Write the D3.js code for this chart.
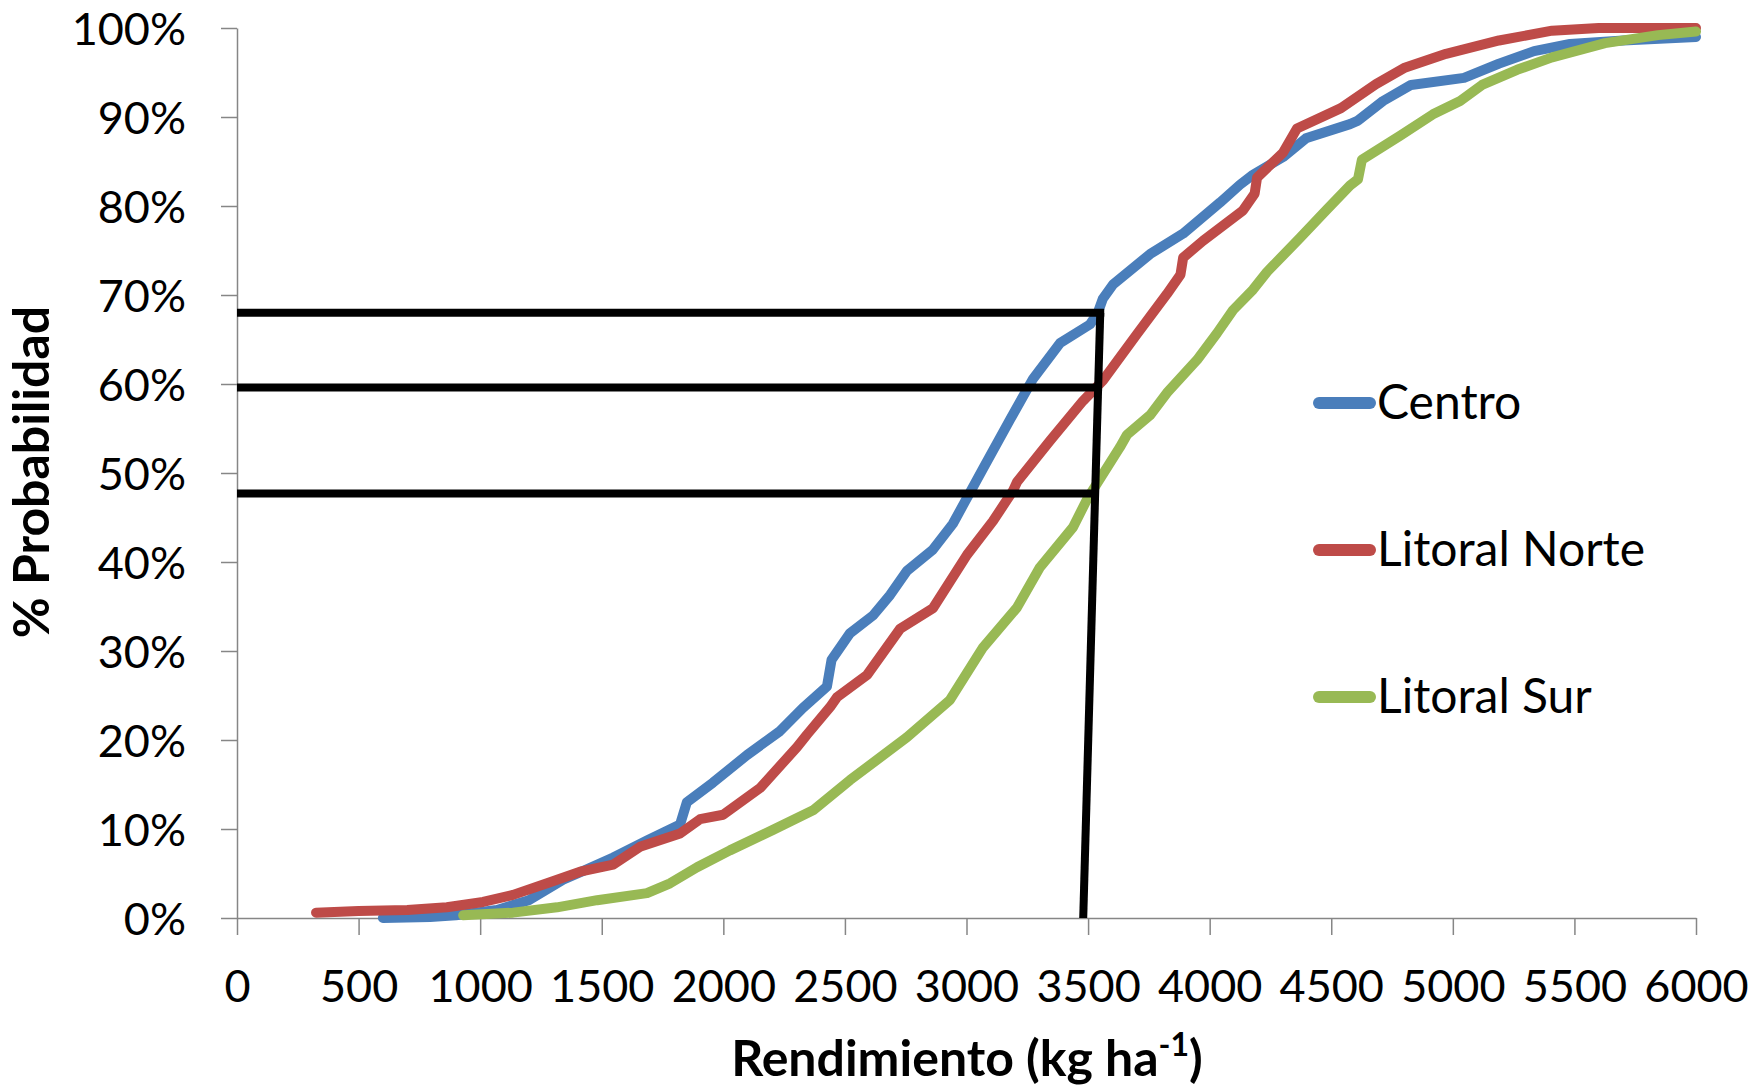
<!DOCTYPE html>
<html>
<head>
  <meta charset="utf-8">
  <title>Rendimiento</title>
  <script src="https://cdn.jsdelivr.net/npm/d3@7"></script>
  <style>
    body { margin: 0; background: #fff; }
    text { font-family: Lato, "Open Sans", sans-serif; fill: #000; }
  </style>
</head>
<body>
  <svg width="1752" height="1089" id="mainsvg"></svg>
  <script>
    // series: [rendimiento kg/ha, probabilidad acumulada %]
    const seriesNames = ['Centro', 'Litoral Norte', 'Litoral Sur'];
    const seriesColors = ['#4A7EBB', '#BE4B48', '#98B954'];

    const centro = [
      [600, 0], [794, 0.1], [900, 0.3], [1069, 0.9], [1200, 2.0], [1341, 4.3], [1450, 5.6],
      [1547, 6.8], [1686, 8.7], [1822, 10.5], [1850, 13.0], [1957, 15.2], [2097, 18.3],
      [2233, 21.0], [2327, 23.6], [2426, 26.0], [2445, 29.0], [2521, 32.0], [2616, 34.0],
      [2686, 36.3], [2755, 39.0], [2862, 41.4], [2944, 44.3], [3014, 47.8], [3068, 50.5],
      [3179, 56.0], [3274, 60.6], [3385, 64.6], [3508, 66.7], [3540, 68.0], [3561, 69.6],
      [3603, 71.2], [3755, 74.6], [3891, 76.9], [4043, 80.4], [4125, 82.4], [4178, 83.5],
      [4302, 85.5], [4396, 87.6], [4577, 89.2], [4610, 89.6], [4713, 91.8], [4828, 93.6],
      [5046, 94.4], [5190, 96.0], [5334, 97.4], [5482, 98.2], [5700, 98.6], [6000, 99.0]
    ];
    const litoralNorte = [
      [325, 0.6], [500, 0.8], [700, 0.9], [863, 1.2], [1012, 1.8], [1135, 2.6], [1275, 3.9],
      [1411, 5.2], [1547, 6.0], [1657, 8.0], [1822, 9.5], [1904, 11.1], [1999, 11.6],
      [2151, 14.6], [2303, 19.2], [2344, 20.6], [2439, 23.7], [2467, 24.8], [2591, 27.3],
      [2727, 32.5], [2862, 34.8], [3002, 40.8], [3109, 44.6], [3191, 48.0], [3208, 49.0],
      [3343, 53.6], [3479, 58.1], [3561, 60.4], [3701, 65.6], [3824, 70.1], [3880, 72.3],
      [3891, 74.2], [3973, 76.1], [4137, 79.5], [4185, 81.4], [4195, 83.2], [4302, 86.0],
      [4359, 88.7], [4540, 91.0], [4684, 93.7], [4799, 95.5], [4972, 97.1], [5190, 98.6],
      [5408, 99.7], [5600, 100], [6000, 100]
    ];
    const litoralSur = [
      [930, 0.3], [1135, 0.6], [1316, 1.2], [1481, 2.0], [1686, 2.8], [1781, 3.9], [1892, 5.7],
      [2027, 7.6], [2204, 9.9], [2369, 12.1], [2521, 15.5], [2755, 20.3], [2932, 24.5],
      [3068, 30.4], [3208, 34.9], [3302, 39.4], [3438, 43.9], [3495, 47.0], [3520, 48.1],
      [3631, 52.9], [3660, 54.3], [3755, 56.5], [3824, 59.0], [3948, 62.7], [4030, 65.7],
      [4096, 68.3], [4178, 70.6], [4236, 72.6], [4371, 76.4], [4482, 79.6], [4577, 82.3],
      [4610, 83.0], [4626, 85.2], [4783, 87.9], [4918, 90.3], [5030, 91.8], [5120, 93.6],
      [5264, 95.3], [5408, 96.7], [5626, 98.3], [5844, 99.2], [6000, 99.6]
    ];
    // black reference lines
    const guideVertical = [[3480, 0], [3550, 68.0]];
    const guideHorizontal = [[68.0, 3550], [59.6, 3541], [47.7, 3528]];

    const xTicks = d3.range(0, 6001, 500);
    const yTicks = d3.range(0, 101, 10);

    const svg = d3.select('svg');
    const margin = {top: 28, right: 56, bottom: 171, left: 237};
    const width = +svg.attr('width');
    const height = +svg.attr('height');
    const innerWidth = width - margin.left - margin.right;
    const innerHeight = height - margin.top - margin.bottom;
    const g = svg.append('g').attr('transform', `translate(${margin.left}, ${margin.top})`);

    const xScale = d3.scaleLinear().domain([0, 6000]).range([0, innerWidth]);
    const yScale = d3.scaleLinear().domain([0, 100]).range([innerHeight, 0]);

    // axes
    const xAxis = d3.axisBottom(xScale).tickValues(xTicks).tickSize(17).tickSizeOuter(0).tickFormat(d3.format('d'));
    const yAxis = d3.axisLeft(yScale).tickValues(yTicks).tickSize(16).tickSizeOuter(0).tickFormat(d => d + '%');
    const xg = g.append('g').attr('transform', `translate(0, ${innerHeight})`).call(xAxis);
    const yg = g.append('g').call(yAxis);
    [xg, yg].forEach(a => {
      a.selectAll('path, line').attr('stroke', '#868686').attr('stroke-width', 1.5);
      a.selectAll('text').attr('font-size', 45).attr('font-family', 'Lato, sans-serif').attr('fill', '#000');
    });
    xg.selectAll('text').attr('y', 84).attr('dy', 0);
    yg.selectAll('text').attr('x', -51).attr('dy', '0.36em');

    // curves
    const line = d3.line().x(d => xScale(d[0])).y(d => yScale(d[1]));
    [centro, litoralNorte, litoralSur].forEach((s, i) => {
      g.append('path').datum(s)
        .attr('d', line)
        .attr('fill', 'none')
        .attr('stroke', seriesColors[i])
        .attr('stroke-width', 10)
        .attr('stroke-linejoin', 'round')
        .attr('stroke-linecap', 'round');
    });

    // black guide lines
    g.append('path').datum(guideVertical).attr('d', line)
      .attr('stroke', '#000').attr('stroke-width', 8).attr('fill', 'none');
    guideHorizontal.forEach(h => {
      g.append('line')
        .attr('x1', xScale(0)).attr('x2', xScale(h[1]) + 4)
        .attr('y1', yScale(h[0])).attr('y2', yScale(h[0]))
        .attr('stroke', '#000').attr('stroke-width', 8);
    });

    // legend
    const legend = svg.append('g').attr('transform', 'translate(1313, 403)');
    seriesNames.forEach((name, i) => {
      const row = legend.append('g').attr('transform', `translate(0, ${i * 147})`);
      row.append('line').attr('x1', 6).attr('x2', 57).attr('y1', 0).attr('y2', 0)
        .attr('stroke', seriesColors[i]).attr('stroke-width', 12).attr('stroke-linecap', 'round');
      row.append('text').attr('x', 64).attr('y', 16).attr('font-size', 48).text(name);
    });

    // axis titles
    const xTitle = svg.append('text').attr('x', 967).attr('y', 1076)
      .attr('text-anchor', 'middle').attr('font-size', 50).attr('font-weight', 'bold');
    xTitle.append('tspan').text('Rendimiento (kg ha');
    xTitle.append('tspan').attr('dy', -20).attr('font-size', 32).text('-1');
    xTitle.append('tspan').attr('dy', 20).text(')');

    svg.append('text').attr('transform', 'translate(49, 472) rotate(-90)')
      .attr('text-anchor', 'middle').attr('font-size', 50).attr('font-weight', 'bold')
      .text('% Probabilidad');
  </script>
</body>
</html>
